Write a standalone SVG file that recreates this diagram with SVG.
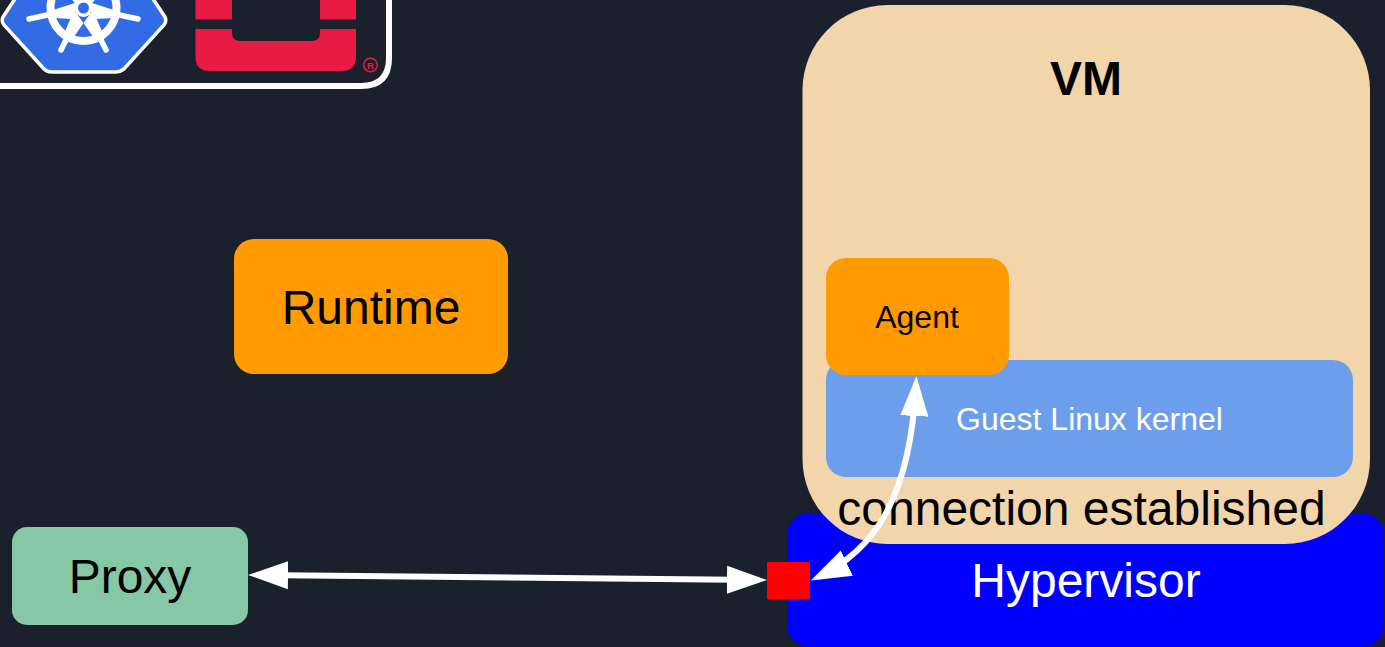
<svg xmlns="http://www.w3.org/2000/svg" width="1385" height="647" viewBox="0 0 1385 647">
<style>
text{font-family:"Liberation Sans",Arial,sans-serif;text-anchor:middle}
.c{fill:none;stroke:#fff;stroke-width:6}
.sp{stroke:#fff;stroke-width:5.5;stroke-linecap:round;fill:none}
</style>
<defs>
<marker id="a" markerUnits="userSpaceOnUse" markerWidth="42" markerHeight="30" refX="32" refY="14" orient="auto-start-reverse" viewBox="0 0 42 28"><path d="M0 0L40 14L0 28Z" fill="#fff"/></marker>
</defs>
<rect width="1385" height="647" fill="#1b212c"/>
<g id="logo">
<path d="M-20 86H361Q389 86 389 58V-10" fill="none" stroke="#fff" stroke-width="6"/>
<path d="M34 -30H134L165 17Q167 21 164 25L124 69Q120 72 116 72H52Q47 72 44 69L4 25Q1 21 3 17Z" fill="#326ce5" stroke="#fff" stroke-width="3.500"/>
<circle cx="83.500" cy="8" r="33" fill="none" stroke="#fff" stroke-width="8"/>
<g class="sp">
<path d="M29 19L52 14M138 19L115 14M61 50L68 36M106 50L99 36"/>
<path d="M83.500 8L60 -20M83.500 8L107 -20" stroke-width="7"/>
</g>
<path d="M83.500 23L72.800 38.500L64 33.900L74 10ZM83.500 23L94.200 38.500L103 33.900L93 10ZM54.800 18L53.200 10L78 2L72 19ZM112.200 18L113.800 10L89 2L95 19Z" fill="#fff"/>
<circle cx="83.500" cy="8" r="9" fill="#fff"/>
<circle cx="83.500" cy="8" r="5.500" fill="#326ce5"/>
<path d="M195.500 0H232V19.500H195.500ZM320 0H356V19.500H320Z" fill="#e91a43"/>
<path d="M195.500 29H232V33Q232 41 241 41H311Q320 41 320 33V29H356V57Q356 71 341 71H210Q195.500 71 195.500 57Z" fill="#e91a43"/>
<circle cx="370.500" cy="65" r="6.800" fill="none" stroke="#e91a43" stroke-width="1.500"/>
<text x="370.500" y="68.500" font-size="9.500" font-weight="bold" fill="#e91a43">R</text>
</g>
<g id="runtime">
<rect x="234" y="239" width="274" height="135" rx="20" fill="#ff9b00"/>
<text x="371" y="324" font-size="48">Runtime</text>
</g>
<g id="proxy">
<rect x="12" y="527" width="236" height="98" rx="15" fill="#86c8a6"/>
<text x="130" y="593" font-size="48">Proxy</text>
</g>
<g id="hypervisor">
<rect x="787" y="513" width="597" height="134" rx="22" fill="#0000ff"/>
<text x="1086" y="597" font-size="48" fill="#fff">Hypervisor</text>
</g>
<g id="vm">
<rect x="802.500" y="5" width="567.500" height="539" rx="85" fill="#f3d5ab"/>
<text x="1086" y="95" font-size="48" font-weight="bold">VM</text>
</g>
<g id="kernel">
<rect x="826" y="360" width="527" height="117" rx="20" fill="#6d9eeb"/>
<text x="1089.500" y="430" font-size="32" fill="#fff">Guest Linux kernel</text>
</g>
<g id="agent">
<rect x="826" y="258" width="183" height="117" rx="20" fill="#ff9b00"/>
<text x="917" y="328" font-size="32">Agent</text>
</g>
<text id="status" x="1081.500" y="525" font-size="48">connection established</text>
<g id="port"><rect x="767" y="562" width="43" height="37" fill="#f00"/></g>
<g id="connectors">
<path class="c" d="M256 575L759 580" marker-start="url(#a)" marker-end="url(#a)"/>
<path class="c" d="M818 577C872 551 910 502 916 384" marker-start="url(#a)" marker-end="url(#a)"/>
</g>
</svg>
